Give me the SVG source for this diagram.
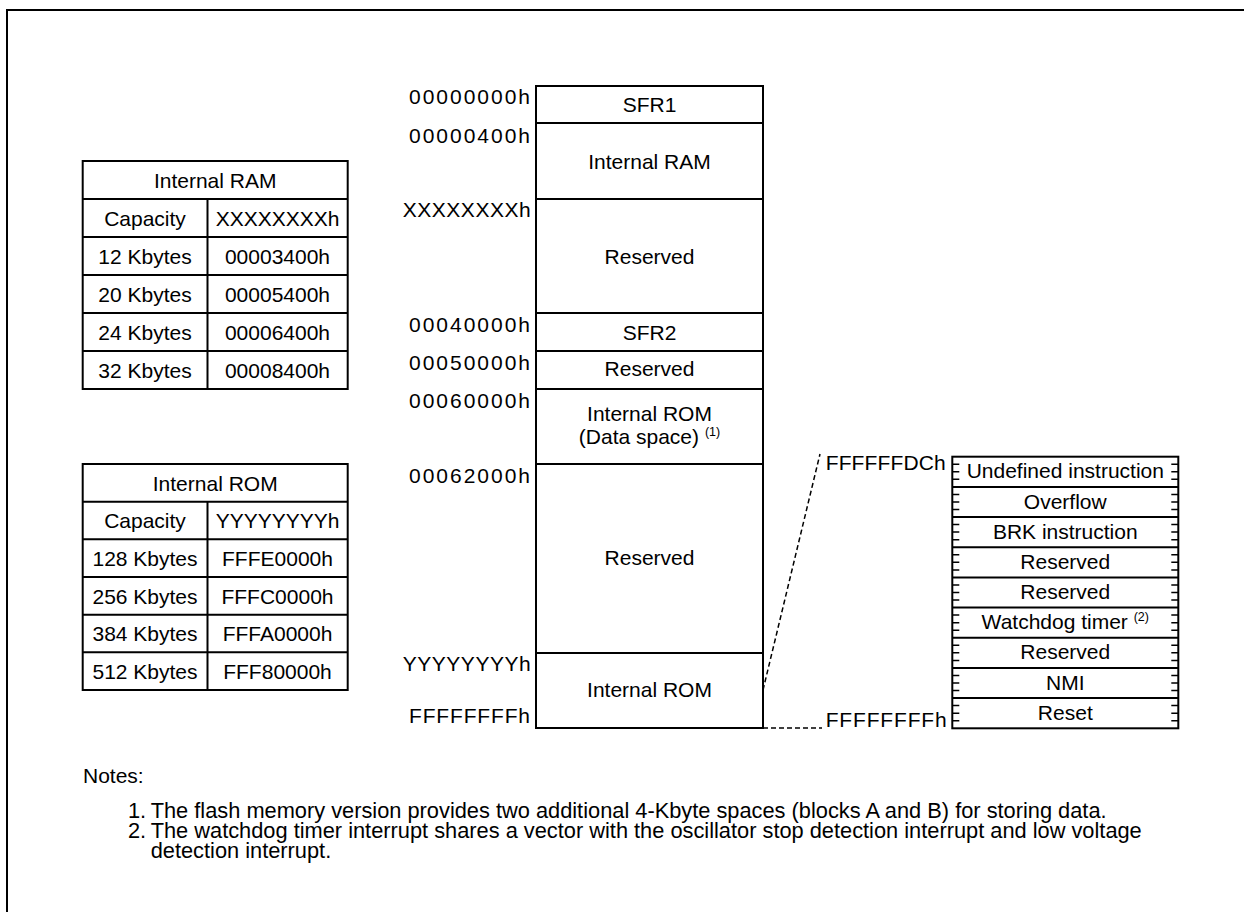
<svg xmlns="http://www.w3.org/2000/svg" width="1244" height="912" viewBox="0 0 1244 912">
<style>
.t{font-family:"Liberation Sans",Arial,sans-serif;font-size:21px;fill:#000}
.n{font-size:21.8px}
.c{text-anchor:middle}
.ln{fill:none;stroke:#000;stroke-width:2}
.tk{fill:none;stroke:#000;stroke-width:1.5}
.dash{fill:none;stroke:#000;stroke-width:1.5;stroke-dasharray:5 3}
.sup{font-size:12.5px}
</style>
<rect x="0" y="0" width="1244" height="912" fill="#fff"/>
<path class="ln" d="M7,912 V10 H1244" stroke-width="2.5"/>

<g id="ram-table">
<rect class="ln" x="82.7" y="161" width="265" height="228"/>
<path class="ln" d="M82.7,199H347.7M82.7,237H347.7M82.7,275H347.7M82.7,313H347.7M82.7,351H347.7M207.5,199V389"/>
<text class="t c" x="215.2" y="187.5">Internal RAM</text>
<text class="t c" x="145" y="225.5">Capacity</text>
<text class="t c" x="277.5" y="225.5">XXXXXXXXh</text>
<text class="t c" x="145" y="263.5">12 Kbytes</text>
<text class="t c" x="277.5" y="263.5">00003400h</text>
<text class="t c" x="145" y="301.5">20 Kbytes</text>
<text class="t c" x="277.5" y="301.5">00005400h</text>
<text class="t c" x="145" y="339.5">24 Kbytes</text>
<text class="t c" x="277.5" y="339.5">00006400h</text>
<text class="t c" x="145" y="377.5">32 Kbytes</text>
<text class="t c" x="277.5" y="377.5">00008400h</text>
</g>

<g id="rom-table">
<rect class="ln" x="82.7" y="464" width="265" height="226"/>
<path class="ln" d="M82.7,501.7H347.7M82.7,539.3H347.7M82.7,577H347.7M82.7,614.7H347.7M82.7,652.3H347.7M207.5,501.7V690"/>
<text class="t c" x="215.2" y="490.5">Internal ROM</text>
<text class="t c" x="145" y="528.2">Capacity</text>
<text class="t c" x="277.5" y="528.2">YYYYYYYYh</text>
<text class="t c" x="145" y="565.8">128 Kbytes</text>
<text class="t c" x="277.5" y="565.8">FFFE0000h</text>
<text class="t c" x="145" y="603.5">256 Kbytes</text>
<text class="t c" x="277.5" y="603.5">FFFC0000h</text>
<text class="t c" x="145" y="641.2">384 Kbytes</text>
<text class="t c" x="277.5" y="641.2">FFFA0000h</text>
<text class="t c" x="145" y="678.8">512 Kbytes</text>
<text class="t c" x="277.5" y="678.8">FFF80000h</text>
</g>

<g id="memory-map">
<rect class="ln" x="536" y="86" width="227" height="642"/>
<path class="ln" d="M536,123H763M536,199H763M536,313H763M536,351H763M536,389H763M536,464H763M536,653H763"/>
<text class="t c" x="649.5" y="111.5">SFR1</text>
<text class="t c" x="649.5" y="168.5">Internal RAM</text>
<text class="t c" x="649.5" y="263.5">Reserved</text>
<text class="t c" x="649.5" y="339.5">SFR2</text>
<text class="t c" x="649.5" y="376">Reserved</text>
<text class="t c" x="649.5" y="420.7">Internal ROM</text>
<text class="t c" x="649.5" y="444">(Data space) <tspan class="sup" dy="-8">(1)</tspan></text>
<text class="t c" x="649.5" y="565">Reserved</text>
<text class="t c" x="649.5" y="697">Internal ROM</text>
</g>

<g id="addresses">
<text class="t" x="409" y="104" textLength="121" lengthAdjust="spacing">00000000h</text>
<text class="t" x="409" y="142.7" textLength="121" lengthAdjust="spacing">00000400h</text>
<text class="t" x="402.7" y="217" textLength="128" lengthAdjust="spacing">XXXXXXXXh</text>
<text class="t" x="409" y="332.3" textLength="121" lengthAdjust="spacing">00040000h</text>
<text class="t" x="409" y="370" textLength="121" lengthAdjust="spacing">00050000h</text>
<text class="t" x="409" y="407.7" textLength="121" lengthAdjust="spacing">00060000h</text>
<text class="t" x="409" y="482.7" textLength="121" lengthAdjust="spacing">00062000h</text>
<text class="t" x="402.7" y="670.7" textLength="128" lengthAdjust="spacing">YYYYYYYYh</text>
<text class="t" x="409" y="723.3" textLength="121" lengthAdjust="spacing">FFFFFFFFh</text>
<text class="t" x="825.7" y="470" textLength="120" lengthAdjust="spacing">FFFFFFDCh</text>
<text class="t" x="825.7" y="726.7" textLength="121" lengthAdjust="spacing">FFFFFFFFh</text>
</g>

<g id="connectors">
<path class="dash" d="M763,690 L820,454"/>
<path class="dash" d="M763,728 H822"/>
</g>

<g id="vector-table">
<rect class="ln" x="952.3" y="456.7" width="226" height="271.6"/>
<path class="ln" d="M952.3,486.9H1178.3M952.3,517.1H1178.3M952.3,547.2H1178.3M952.3,577.4H1178.3M952.3,607.6H1178.3M952.3,637.8H1178.3M952.3,667.9H1178.3M952.3,698.1H1178.3"/>
<path class="tk" d="M952.3,464.2h7M952.3,471.8h7M952.3,479.3h7M1178.3,464.2h-7M1178.3,471.8h-7M1178.3,479.3h-7
M952.3,494.4h7M952.3,502h7M952.3,509.5h7M1178.3,494.4h-7M1178.3,502h-7M1178.3,509.5h-7
M952.3,524.6h7M952.3,532.1h7M952.3,539.7h7M1178.3,524.6h-7M1178.3,532.1h-7M1178.3,539.7h-7
M952.3,554.8h7M952.3,562.3h7M952.3,569.9h7M1178.3,554.8h-7M1178.3,562.3h-7M1178.3,569.9h-7
M952.3,584.9h7M952.3,592.5h7M952.3,600h7M1178.3,584.9h-7M1178.3,592.5h-7M1178.3,600h-7
M952.3,615.1h7M952.3,622.7h7M952.3,630.2h7M1178.3,615.1h-7M1178.3,622.7h-7M1178.3,630.2h-7
M952.3,645.3h7M952.3,652.8h7M952.3,660.4h7M1178.3,645.3h-7M1178.3,652.8h-7M1178.3,660.4h-7
M952.3,675.5h7M952.3,683h7M952.3,690.6h7M1178.3,675.5h-7M1178.3,683h-7M1178.3,690.6h-7
M952.3,705.6h7M952.3,713.2h7M952.3,720.7h7M1178.3,705.6h-7M1178.3,713.2h-7M1178.3,720.7h-7"/>
<text class="t c" x="1065.3" y="478.3">Undefined instruction</text>
<text class="t c" x="1065.3" y="508.5">Overflow</text>
<text class="t c" x="1065.3" y="538.7">BRK instruction</text>
<text class="t c" x="1065.3" y="568.8">Reserved</text>
<text class="t c" x="1065.3" y="599">Reserved</text>
<text class="t c" x="1065.3" y="629.2">Watchdog timer <tspan class="sup" dy="-8">(2)</tspan></text>
<text class="t c" x="1065.3" y="659.4">Reserved</text>
<text class="t c" x="1065.3" y="689.5">NMI</text>
<text class="t c" x="1065.3" y="719.7">Reset</text>
</g>

<g id="notes">
<text class="t" x="83" y="783">Notes:</text>
<text class="t n" x="128" y="818">1.</text>
<text class="t n" x="150.7" y="818">The flash memory version provides two additional 4-Kbyte spaces (blocks A and B) for storing data.</text>
<text class="t n" x="128" y="838">2.</text>
<text class="t n" x="150.7" y="838">The watchdog timer interrupt shares a vector with the oscillator stop detection interrupt and low voltage</text>
<text class="t n" x="150.7" y="858">detection interrupt.</text>
</g>
</svg>
